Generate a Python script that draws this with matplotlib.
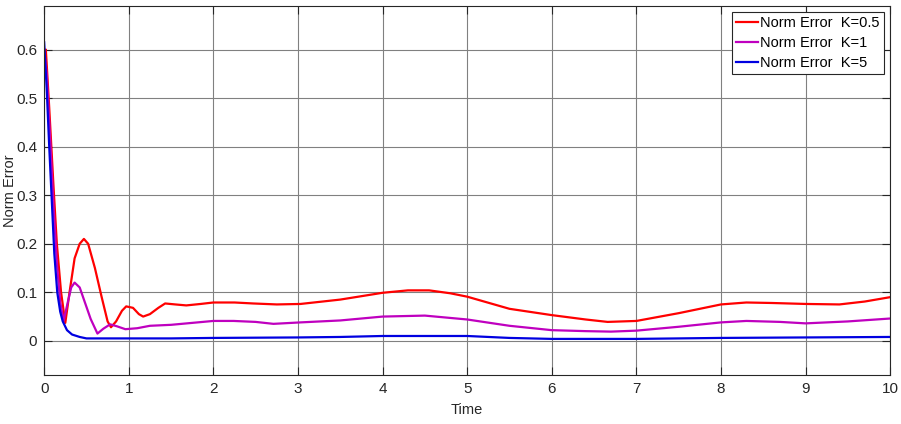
import matplotlib.pyplot as plt

# --- Data ---
t_k05 = [0.0, 0.02, 0.06, 0.11, 0.15, 0.20, 0.25, 0.30, 0.36, 0.42, 0.47, 0.52,
         0.60, 0.68, 0.75, 0.79, 0.85, 0.92, 0.97, 1.05, 1.12, 1.17, 1.25,
         1.35, 1.43, 1.55, 1.68, 1.85, 2.0, 2.25, 2.47, 2.75, 3.03, 3.5, 4.0,
         4.3, 4.55, 4.8, 5.0, 5.5, 6.0, 6.4, 6.66, 7.0, 7.5, 8.0, 8.3, 8.6,
         9.0, 9.4, 9.7, 10.0]
e_k05 = [0.59, 0.60, 0.48, 0.32, 0.20, 0.10, 0.037, 0.10, 0.17, 0.20, 0.21, 0.20,
         0.15, 0.09, 0.04, 0.028, 0.04, 0.062, 0.071, 0.068, 0.055, 0.050, 0.055,
         0.068, 0.077, 0.075, 0.073, 0.076, 0.079, 0.079, 0.077, 0.075, 0.076,
         0.085, 0.099, 0.104, 0.104, 0.098, 0.091, 0.066, 0.053, 0.044, 0.039,
         0.041, 0.057, 0.075, 0.079, 0.078, 0.076, 0.075, 0.081, 0.090]

t_k1 = [0.0, 0.03, 0.07, 0.11, 0.15, 0.19, 0.23, 0.28, 0.32, 0.36, 0.42, 0.48,
        0.55, 0.63, 0.70, 0.78, 0.86, 0.96, 1.1, 1.25, 1.5, 1.75, 2.0, 2.24,
        2.5, 2.71, 3.03, 3.5, 4.0, 4.5, 5.0, 5.5, 6.0, 6.4, 6.7, 7.0, 7.5,
        8.0, 8.3, 8.7, 9.0, 9.5, 10.0]
e_k1 = [0.60, 0.55, 0.42, 0.28, 0.16, 0.08, 0.041, 0.08, 0.11, 0.12, 0.11, 0.08,
        0.045, 0.015, 0.025, 0.034, 0.030, 0.024, 0.026, 0.031, 0.033, 0.037,
        0.041, 0.041, 0.039, 0.035, 0.038, 0.042, 0.050, 0.052, 0.044, 0.031,
        0.022, 0.020, 0.019, 0.021, 0.029, 0.038, 0.041, 0.039, 0.036, 0.040,
        0.046]

t_k5 = [0.0, 0.03, 0.06, 0.09, 0.12, 0.155, 0.19, 0.22, 0.27, 0.33, 0.42, 0.5,
        1.0, 1.5, 2.0, 3.0, 3.5, 4.0, 5.0, 5.5, 6.0, 7.0, 8.0, 9.0, 10.0]
e_k5 = [0.615, 0.52, 0.40, 0.29, 0.18, 0.10, 0.06, 0.04, 0.022, 0.013, 0.008, 0.005,
        0.005, 0.005, 0.006, 0.007, 0.008, 0.010, 0.010, 0.006, 0.004, 0.004,
        0.006, 0.007, 0.008]

labels = ['Norm Error  K=0.5', 'Norm Error  K=1', 'Norm Error  K=5']
colors = ['#ff0000', '#bf00bf', '#0000e0']

plt.rcParams['font.family'] = ['Liberation Sans', 'DejaVu Sans']

fig = plt.figure(figsize=(9.01, 4.24), dpi=100)
ax = fig.add_axes([0.049, 0.116, 0.939, 0.870])

ax.plot(t_k05, e_k05, color=colors[0], lw=1.6, label=labels[0])
ax.plot(t_k1, e_k1, color=colors[1], lw=1.6, label=labels[1])
ax.plot(t_k5, e_k5, color=colors[2], lw=1.6, label=labels[2])

ax.set_xlim(0, 10)
ax.set_ylim(-0.07, 0.69)
ax.set_xticks(range(0, 11))
ax.set_yticks([0, 0.1, 0.2, 0.3, 0.4, 0.5, 0.6])
ax.set_yticklabels(['0', '0.1', '0.2', '0.3', '0.4', '0.5', '0.6'])
ax.grid(True, color='#808080', lw=0.8)
ax.set_axisbelow(True)
ax.tick_params(direction='in', top=True, right=True, length=6, labelsize=11,
               colors='#262626', pad=5)
for s in ax.spines.values():
    s.set_color('#262626')
ax.set_xlabel('Time', fontsize=10.5, color='#262626', labelpad=5)
ax.set_ylabel('Norm Error', fontsize=10.5, color='#262626')
ax.yaxis.set_label_coords(-0.032, 0.5)

leg = ax.legend(loc='upper right', fontsize=10.5, handlelength=1.5, handletextpad=0.15,
                borderpad=0.3, labelspacing=0.4, fancybox=False, framealpha=1,
                borderaxespad=0.4)
leg.get_frame().set_edgecolor('#262626')
leg.get_frame().set_linewidth(0.8)

fig.savefig('out.png', dpi=100)
